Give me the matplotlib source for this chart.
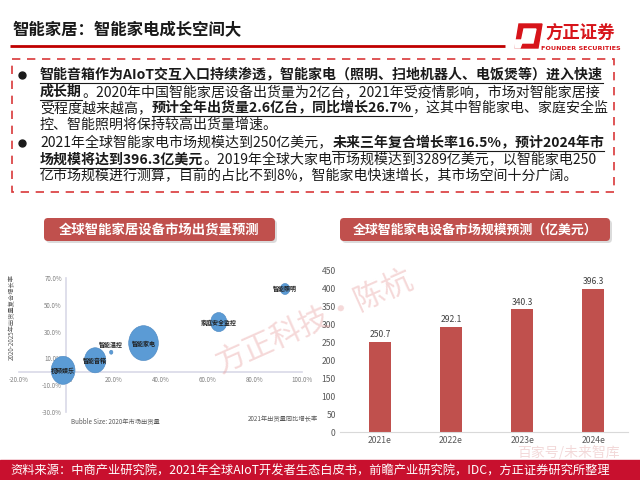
import numpy as np
import matplotlib
matplotlib.use('Agg')
import matplotlib.pyplot as plt
from matplotlib.patches import FancyBboxPatch, Rectangle, Polygon
from matplotlib.path import Path

plt.rcParams['font.family'] = ['Noto Sans CJK SC', 'DejaVu Sans']

# ---- data ----
bubble_names = ['视频娱乐', '智能音箱', '智能温控', '智能家电', '家庭安全监控', '智能照明']
growth_2021 = [-1.3, 12.3, 19.1, 32.8, 64.7, 92.8]       # x: 2021年出货量同比增长率 (%)
cagr_2020_2025 = [1.1, 8.6, 14.6, 21.4, 37.1, 61.8]     # y: 2020-2025年出货量复合增长率 (%)
shipments_2020 = [400, 320, 8, 620, 185, 62]           # bubble size
bubble_xticks = [-20, 0, 20, 40, 60, 80, 100]
bubble_yticks = [-30, -10, 10, 30, 50, 70]

years = ['2021e', '2022e', '2023e', '2024e']
market_size = [250.7, 292.1, 340.3, 396.3]
bar_yticks = list(range(0, 451, 50))

RED = '#C00000'
PILL = '#C0504D'
BAR = '#C0504D'

W, H = 640, 480
fig = plt.figure(figsize=(6.4, 4.8), dpi=100)

# background axes in pixel coordinates
bg = fig.add_axes([0, 0, 1, 1], zorder=0)
bg.set_xlim(0, W)
bg.set_ylim(H, 0)
bg.axis('off')


def fbox(x0, y0, x1, y1):
    return [x0 / W, 1 - y1 / H, (x1 - x0) / W, (y1 - y0) / H]


# title + line
bg.text(12, 30, '智能家居：智能家电成长空间大', fontsize=11.8, fontweight='bold',
        va='center', ha='left', color='#1a1a1a')
bg.plot([10, 505], [46, 46], color=RED, lw=2, solid_capstyle='butt')

# logo
bg.add_patch(Polygon([(519, 24), (542, 24), (538, 48), (515, 48)], closed=True, color='#D7141A'))
bg.add_patch(Polygon([(524, 29), (536, 29), (533, 43), (521, 43)], closed=True, color='white'))
bg.add_patch(Polygon([(515, 40), (523, 40), (520, 48), (515, 48)], closed=True, color='white'))
bg.text(580, 33, '方正证券', fontsize=12.5, fontweight='bold', color='#D7141A', ha='center', va='center')
bg.text(581, 49, 'FOUNDER SECURITIES', fontsize=4.6, fontweight='bold', color='#D7141A',
        ha='center', va='center', family='DejaVu Sans')

# dashed box
bg.add_patch(Rectangle((12, 59), 602, 133, fill=False, ec='#D9383A', lw=1.2, ls=(0, (5, 4))))

# bullet text
lines = [
    [('智能音箱作为AIoT交互入口持续渗透，智能家电（照明、扫地机器人、电饭煲等）进入快速', True)],
    [('成长期', True), ('。2020年中国智能家居设备出货量为2亿台，2021年受疫情影响，市场对智能家居接', False)],
    [('受程度越来越高，', False), ('预计全年出货量2.6亿台，同比增长26.7%', True), ('，这其中智能家电、家庭安全监', False)],
    [('控、智能照明将保持较高出货量增速。', False)],
    [('2021年全球智能家电市场规模达到250亿美元，', False), ('未来三年复合增长率16.5%，预计2024年市', True)],
    [('场规模将达到396.3亿美元', True), ('。2019年全球大家电市场规模达到3289亿美元，以智能家电250', False)],
    [('亿市场规模进行测算，目前的占比不到8%，智能家电快速增长，其市场空间十分广阔。', False)],
]
line_y = [75, 92, 108, 125, 143, 160, 176]
renderer = fig.canvas.get_renderer()
for segs, y in zip(lines, line_y):
    x = 40
    for txt, bold in segs:
        t = bg.text(x, y, txt, fontsize=10.05, fontweight='bold' if bold else 'normal',
                    color='#1a1a1a', va='center', ha='left')
        w = t.get_window_extent(renderer).width
        if bold:
            bg.plot([x, x + w], [y + 8, y + 8], color='#1a1a1a', lw=0.8)
        x += w
for y in (75, 143):
    bg.plot(22, y, 'o', color='#1a1a1a', ms=5)


# section pills
def pill(x0, y0, x1, y1, label, fs):
    bg.add_patch(FancyBboxPatch((x0 + 2, y0 + 2), x1 - x0, y1 - y0,
                                boxstyle='round,pad=0,rounding_size=4',
                                fc='#999999', ec='none', alpha=0.35))
    bg.add_patch(FancyBboxPatch((x0, y0), x1 - x0, y1 - y0,
                                boxstyle='round,pad=0,rounding_size=4',
                                fc=PILL, ec='none'))
    bg.text((x0 + x1) / 2, (y0 + y1) / 2, label, fontsize=fs, fontweight='bold',
            color='white', ha='center', va='center')


pill(44, 218, 275, 241, '全球智能家居设备市场出货量预测', 9.6)
pill(340, 218, 610, 241, '全球智能家电设备市场规模预测（亿美元）', 9.3)

# footer
bg.add_patch(Rectangle((0, 460), W, 20, color='#C8102E'))
bg.text(10, 471, '资料来源：中商产业研究院，2021年全球AIoT开发者生态白皮书，前瞻产业研究院，IDC，方正证券研究所整理',
        fontsize=8.8, color='white', ha='left', va='center')

# ---- bubble chart ----
ax1 = fig.add_axes(fbox(19, 278, 302, 412), zorder=1)
ax1.patch.set_alpha(0)
ax1.set_xlim(-20, 100)
ax1.set_ylim(-30, 70)
for s in ('top', 'right'):
    ax1.spines[s].set_visible(False)
ax1.spines['left'].set_position(('data', 0))
ax1.spines['bottom'].set_position(('data', 0))
for s in ('left', 'bottom'):
    ax1.spines[s].set_color('#D9D9E8')
    ax1.spines[s].set_linewidth(1.2)
ax1.set_xticks(bubble_xticks)
ax1.set_xticklabels([f'{v:.1f}%' for v in bubble_xticks])
ax1.set_yticks(bubble_yticks)
ax1.set_yticklabels([f'{v:.1f}%' for v in bubble_yticks])
ax1.tick_params(length=0, labelsize=4.5, colors='#7F7F7F', pad=3)

circ = Path.unit_circle()
ell = Path(circ.vertices * np.array([0.85, 1.0]), circ.codes)
ax1.scatter(growth_2021, cagr_2020_2025, s=np.array(shipments_2020) * 1.02, marker=ell,
            color='#5B9BD5', edgecolors='#4A86C0', linewidths=0.4, zorder=3)
for name, x, y in zip(bubble_names, growth_2021, cagr_2020_2025):
    dy = 5.5 if name == '智能温控' else 0
    ax1.text(x, y + dy, name, fontsize=4.3, fontweight='bold', color='#1F1F1F',
             ha='center', va='center', zorder=4)

bg.text(12, 317, '2020-2025年出货量复合增长率', fontsize=4.5, color='#595959',
        rotation=90, ha='center', va='center')
bg.text(115, 421, 'Bubble Size: 2020年市场出货量', fontsize=4.5, color='#595959',
        ha='center', va='center')
bg.text(283, 419, '2021年出货量同比增长率', fontsize=4.5, color='#595959',
        ha='center', va='center')

# ---- bar chart ----
ax2 = fig.add_axes(fbox(340, 270, 628, 432), zorder=1)
ax2.patch.set_alpha(0)
xpos = np.arange(len(years))
ax2.bar(xpos, market_size, width=0.31, color=BAR)
for x, v in zip(xpos, market_size):
    ax2.text(x, v + 8, f'{v:.1f}', ha='center', va='bottom', fontsize=6.2, color='#404040')
ax2.set_xlim(-0.563, 3.49)
ax2.set_ylim(0, 450)
ax2.set_yticks(bar_yticks)
ax2.set_xticks(xpos)
ax2.set_xticklabels(years)
for s in ('top', 'right', 'left'):
    ax2.spines[s].set_visible(False)
ax2.spines['bottom'].set_color('#D9D9D9')
ax2.tick_params(length=0, labelsize=6.2, colors='#595959', pad=3)

# watermarks
fig.text(315 / W, 1 - 322 / H, '方正科技·陈杭', fontsize=22, color='#E8A0A0', alpha=0.4,
         rotation=24, ha='center', va='center', zorder=10)
fig.text(568 / W, 1 - 452 / H, '百家号/未来智库', fontsize=10, color='#F0D0D0', alpha=0.8,
         ha='center', va='center', zorder=10)

fig.savefig('out.png', dpi=100)
